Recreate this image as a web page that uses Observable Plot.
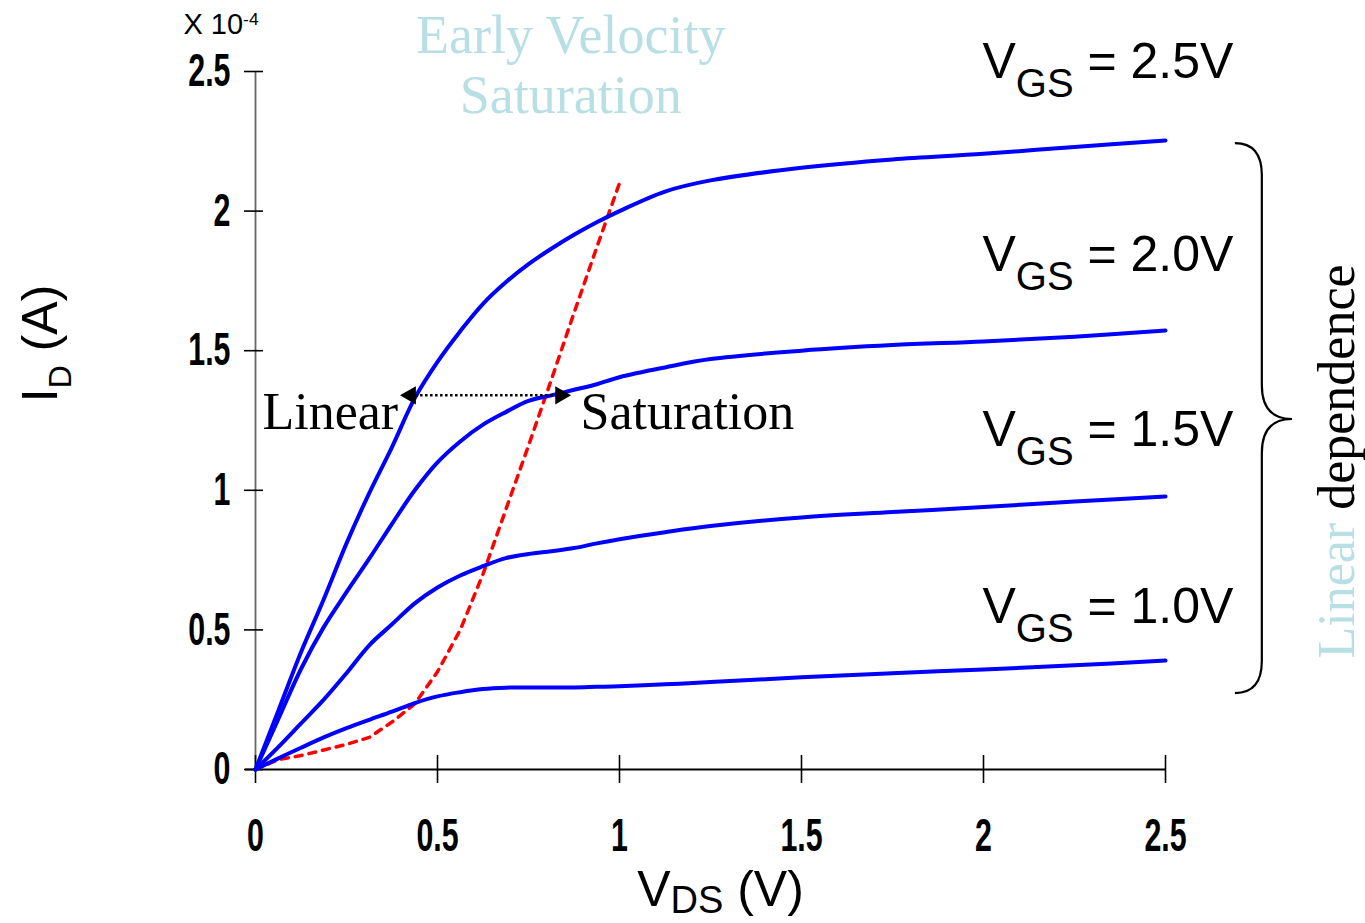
<!DOCTYPE html>
<html><head><meta charset="utf-8">
<script src="https://cdn.jsdelivr.net/npm/d3@7"></script>
<script src="https://cdn.jsdelivr.net/npm/@observablehq/plot@0.6"></script>
<style>
html,body{margin:0;padding:0;background:#fff;}
#chart svg{display:block;}
</style>
</head><body><div id="chart"></div>
<script>
// ---- data (I_D in units of 1e-4 A) ----
const vds = [0, 0.0625, 0.125, 0.1875, 0.25, 0.3125, 0.375, 0.4375, 0.5, 0.5625, 0.625, 0.6875, 0.75, 0.8125, 0.875, 0.9375, 1.0, 1.125, 1.25, 1.5, 1.75, 2.0, 2.25, 2.5];
const vgsLabels = ["2.5V", "2.0V", "1.5V", "1.0V"];
const id25 = [0, 0.21, 0.42, 0.61, 0.81, 0.99, 1.155, 1.33, 1.46, 1.57, 1.668, 1.745, 1.81, 1.865, 1.915, 1.96, 2.0, 2.07, 2.11, 2.155, 2.185, 2.205, 2.23, 2.253];
const id20 = [0, 0.18, 0.36, 0.51, 0.635, 0.755, 0.88, 1.0, 1.1, 1.175, 1.235, 1.28, 1.32, 1.34, 1.36, 1.38, 1.405, 1.44, 1.47, 1.5, 1.52, 1.533, 1.55, 1.572];
const id15 = [0, 0.08, 0.165, 0.25, 0.345, 0.445, 0.52, 0.595, 0.652, 0.695, 0.728, 0.757, 0.772, 0.782, 0.793, 0.81, 0.825, 0.85, 0.872, 0.903, 0.922, 0.94, 0.96, 0.978];
const id10 = [0, 0.04, 0.078, 0.115, 0.148, 0.178, 0.207, 0.238, 0.262, 0.277, 0.288, 0.293, 0.294, 0.294, 0.294, 0.296, 0.298, 0.305, 0.313, 0.33, 0.345, 0.358, 0.373, 0.39];
const vdsSat = [0, 0.0625, 0.125, 0.1875, 0.25, 0.3125, 0.375, 0.4375, 0.5, 0.5625, 0.625, 0.6875, 0.75, 0.8125, 0.875, 0.9375, 1.0];
const idSat = [0, 0.035, 0.05, 0.07, 0.09, 0.115, 0.17, 0.235, 0.35, 0.5, 0.7, 0.93, 1.16, 1.395, 1.635, 1.87, 2.1];
const xTicks = [0, 0.5, 1, 1.5, 2, 2.5];
const yTicks = [0, 0.5, 1, 1.5, 2, 2.5];

const seriesValues = [id25, id20, id15, id10];
const curves = vgsLabels.flatMap((g, k) => vds.map((v, i) => ({vgs: g, vds: v, id: seriesValues[k][i]})));
const satCurve = vdsSat.map((v, i) => ({vds: v, id: idSat[i]}));

const sans = "'Liberation Sans', Arial, Helvetica, sans-serif";
const serif = "'Liberation Serif', 'Times New Roman', Times, serif";
const pale = "#b7dfe4";

const note = (text, x, y, o) => Plot.text([text], {x: () => x, y: () => y, text: d => d, lineAnchor: "bottom", ...o});

function braceMark(index, scales, values, dims) {
  const X = scales.x, Y = scales.y;
  const xa = X(2.692), xv = X(2.766), xt = X(2.849);
  const yt = Y(2.242), ym = Y(1.2536), yb = Y(0.272);
  const p = document.createElementNS("http://www.w3.org/2000/svg", "path");
  p.setAttribute("d", `M${xa},${yt} Q${xv},${yt} ${xv},${yt + 32} L${xv},${ym - 34} Q${xv},${ym} ${xt},${ym} Q${xv},${ym} ${xv},${ym + 34} L${xv},${yb - 32} Q${xv},${yb} ${xa},${yb}`);
  p.setAttribute("fill", "none");
  p.setAttribute("stroke", "black");
  p.setAttribute("stroke-width", "2.2");
  return p;
}

const plot = Plot.plot({
  width: 1365, height: 923,
  marginLeft: 255, marginRight: 200, marginTop: 71, marginBottom: 154,
  x: {domain: [0, 2.5], axis: null, label: null},
  y: {domain: [0, 2.5], axis: null, label: null},
  style: {background: "white", overflow: "visible"},
  marks: [
    Plot.ruleX([0], {stroke: "#666", strokeWidth: 1.8}),
    Plot.axisY(yTicks, {anchor: "left", tickSize: 19, dx: 8, tickPadding: 14, tickFormat: d => String(d), label: null, fontSize: 46, fontWeight: "bold", fontFamily: sans, strokeWidth: 1.6}),
    Plot.axisX(xTicks, {anchor: "bottom", tickSize: 28, dy: -14, tickPadding: 35, tickFormat: d => String(d), label: null, fontSize: 46, fontWeight: "bold", fontFamily: sans, strokeWidth: 1.6}),
    Plot.ruleY([0], {stroke: "black", strokeWidth: 2.2, insetLeft: -10}),
    Plot.line(satCurve, {x: "vds", y: "id", stroke: "#ff0000", strokeWidth: 3.5, strokeDasharray: "7,7"}),
    Plot.line(curves, {x: "vds", y: "id", z: "vgs", stroke: "#0000ff", strokeWidth: 4, curve: "catmull-rom"}),
    // double-headed dotted arrow
    Plot.ruleY([1.34], {x1: 0.426, x2: 0.838, stroke: "black", strokeWidth: 2.5, strokeDasharray: "2.5,2.5"}),
    Plot.dot([0], {x: () => 0.426, y: () => 1.34, symbol: "triangle", rotate: -90, r: 6.8, fill: "black", stroke: null}),
    Plot.dot([0], {x: () => 0.838, y: () => 1.34, symbol: "triangle", rotate: 90, r: 6.8, fill: "black", stroke: null}),
    braceMark,
    // texts
    note("X 10^{-4}", -0.198, 2.636, {textAnchor: "start", fontSize: 29, fontFamily: sans}),
    note("Early Velocity", 0.866, 2.5645, {textAnchor: "middle", fontSize: 54, fontFamily: serif, fill: pale}),
    note("Saturation", 0.866, 2.353, {textAnchor: "middle", fontSize: 54, fontFamily: serif, fill: pale}),
    note("Linear", 0.0192, 1.2178, {textAnchor: "start", fontSize: 52, fontFamily: serif, fill: "black"}),
    note("Saturation", 0.893, 1.2178, {textAnchor: "start", fontSize: 52, fontFamily: serif, fill: "black"}),
    note("V_{GS} = 2.5V", 1.997, 2.475, {textAnchor: "start", fontSize: 50, fontFamily: sans}),
    note("V_{GS} = 2.0V", 1.997, 1.787, {textAnchor: "start", fontSize: 50, fontFamily: sans}),
    note("V_{GS} = 1.5V", 1.997, 1.157, {textAnchor: "start", fontSize: 50, fontFamily: sans}),
    note("V_{GS} = 1.0V", 1.997, 0.5265, {textAnchor: "start", fontSize: 50, fontFamily: sans}),
    note("Linear dependence", 3.0165, 0.3976, {textAnchor: "start", rotate: -90, fontSize: 52, fontFamily: serif}),
    note("I_{D} (A)", -0.544, 1.526, {textAnchor: "middle", rotate: -90, fontSize: 50, fontFamily: sans}),
    note("V_{DS} (V)", 1.2775, -0.49, {textAnchor: "middle", fontSize: 50, fontFamily: sans})
  ]
});
document.getElementById("chart").append(plot);

// ---- post-processing: sub/superscripts, colored words, condensed tick labels ----
const NS = "http://www.w3.org/2000/svg";
const subParams = {"I_{D} (A)": [0.64, 0.27], "V_{DS} (V)": [0.76, 0.14]};
plot.querySelectorAll("text").forEach(t => {
  const s = t.textContent;
  const fs = parseFloat(getComputedStyle(t).fontSize) || 16;
  if (s === "Linear dependence") {
    t.textContent = "";
    const a = document.createElementNS(NS, "tspan"); a.textContent = "Linear"; a.setAttribute("fill", pale);
    const b = document.createElementNS(NS, "tspan"); b.textContent = " dependence"; b.setAttribute("fill", "black");
    t.append(a, b);
    return;
  }
  if (!/[_^]\{/.test(s)) return;
  const [subR, subD] = subParams[s] || [0.8, 0.38];
  const parts = s.split(/([_^]\{[^}]*\})/).filter(p => p !== "");
  t.textContent = "";
  let shift = 0;
  for (const p of parts) {
    const ts = document.createElementNS(NS, "tspan");
    let target = 0;
    if (p.startsWith("_{")) { ts.textContent = p.slice(2, -1); ts.setAttribute("font-size", subR * fs); target = subD * fs; }
    else if (p.startsWith("^{")) { ts.textContent = p.slice(2, -1); ts.setAttribute("font-size", 0.6 * fs); target = -0.3 * fs; }
    else { ts.textContent = p; }
    const d = target - shift;
    if (d) ts.setAttribute("dy", d);
    shift = target;
    t.append(ts);
  }
});
plot.querySelectorAll('g[aria-label="x-axis tick label"] text, g[aria-label="y-axis tick label"] text').forEach(t => {
  const tr = t.getAttribute("transform");
  if (tr) t.setAttribute("transform", tr + " scale(0.66,1)");
  else {
    const x = +t.getAttribute("x") || 0, y = +t.getAttribute("y") || 0;
    t.setAttribute("transform", `translate(${x},${y}) scale(0.66,1) translate(${-x},${-y})`);
  }
});
</script>
</body></html>
